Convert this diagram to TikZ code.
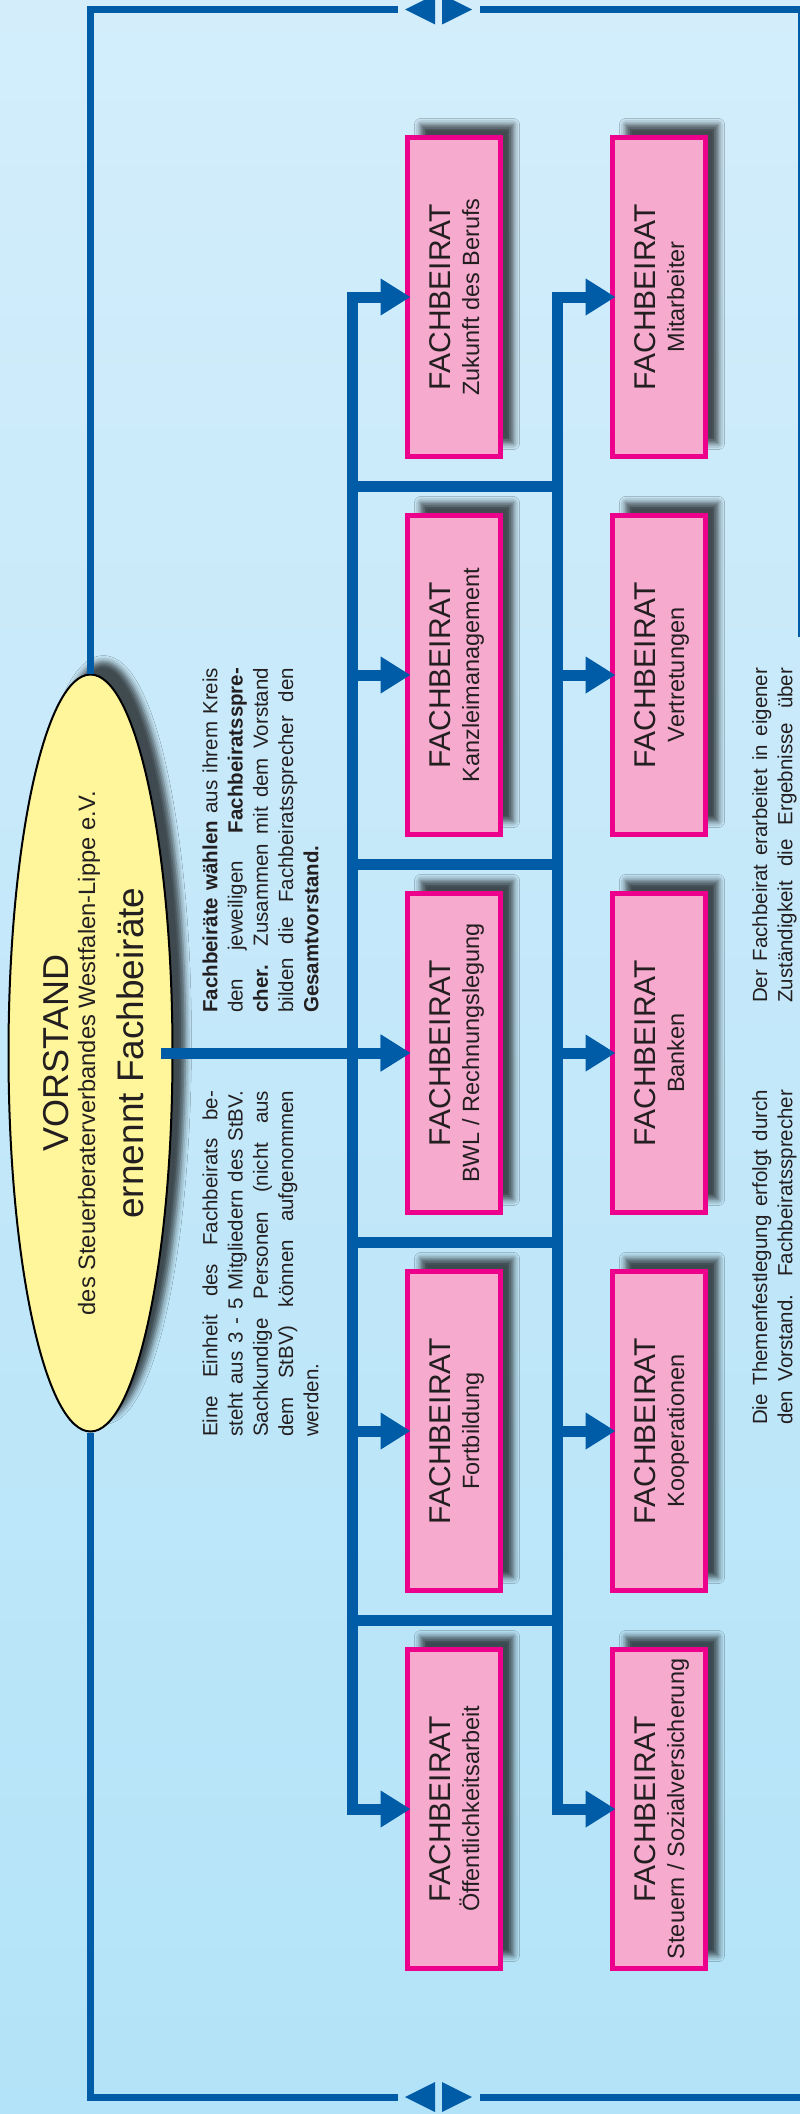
\documentclass[tikz,border=0pt]{standalone}
\usepackage{fontspec}
\setmainfont{Liberation Sans}
\usetikzlibrary{arrows.meta,shapes.geometric,shadows.blur}
\definecolor{bgtop}{RGB}{211,237,251}
\definecolor{bgbot}{RGB}{179,227,248}
\definecolor{lineblue}{RGB}{0,92,167}
\definecolor{boxfill}{RGB}{246,170,205}
\definecolor{boxline}{RGB}{236,0,140}
\definecolor{ellfill}{RGB}{255,246,155}
\definecolor{txt}{RGB}{35,31,32}
\newcommand\fachbox[4]{%
  \node[fbox] (#1) at (#2,#3) {};
  \node[boxtitle] (#1t) at ([xshift=-4pt]#1.center) {FACHBEIRAT};
  \node[boxsub] (#1s) at ([xshift=25pt]#1.center) {#4};
}
\begin{document}
\begin{tikzpicture}[x=1pt,y=-1pt,
  myshadow/.style={blur shadow={shadow xshift=13pt, shadow yshift=13pt, shadow blur radius=6pt, shadow opacity=68}},
  fbox/.style={rectangle, draw=boxline, fill=boxfill, line width=5pt, minimum width=93pt, minimum height=319pt, inner sep=0pt, myshadow},
  boxtitle/.style={rotate=90, anchor=base, inner sep=0pt, text=txt, font=\fontsize{30}{36}\selectfont},
  boxsub/.style={rotate=90, anchor=base, inner sep=0pt, text=txt, font=\fontsize{23.5}{28}\selectfont},
  frame/.style={draw=lineblue, line width=7pt},
  bus/.style={draw=lineblue, line width=11pt},
  arr/.style={draw=lineblue, line width=11pt, -{Triangle[length=30pt,width=35pt]}},
  para/.style={rotate=90, anchor=north west, inner sep=0pt, align=justify, text=txt, font=\fontsize{20.5}{25.25}\selectfont},
  elltext/.style={rotate=90, anchor=base, inner sep=0pt, text=txt}
]
\useasboundingbox (0,0) rectangle (800,2114);
\shade[top color=bgtop, bottom color=bgbot] (0,0) rectangle (800,2114);

% ellipse
\node[ellipse, draw=black, line width=2pt, fill=ellfill, minimum width=164pt, minimum height=757pt, inner sep=0pt, myshadow] (ell) at (90.5,1053) {};

% frame
\coordinate (gapTL) at (398,9.5);
\coordinate (gapTR) at (480,9.5);
\coordinate (rEnd) at (801.5,637);
\coordinate (gapBL) at (398,2097);
\coordinate (gapBR) at (480,2097);
\coordinate (bEnd) at (806,2097);
\draw[frame] (ell.north) |- (gapTL);
\draw[frame] (gapTR) -| (rEnd);
\draw[frame] (ell.south) |- (gapBL);
\draw[frame] (gapBR) -- (bEnd);
\fill[lineblue] (405,9.5) -- (435,-5.5) -- (435,24.5) -- cycle;
\fill[lineblue] (472,9.5) -- (442,-5.5) -- (442,24.5) -- cycle;
\fill[lineblue] (405,2097) -- (435,2082) -- (435,2112) -- cycle;
\fill[lineblue] (472,2097) -- (442,2082) -- (442,2112) -- cycle;

% ellipse text
\node[elltext, font=\fontsize{36}{40}\selectfont] (vt) at ([xshift=-22.5pt]ell.center) {VORSTAND};
\node[elltext, font=\fontsize{23.7}{28}\selectfont] (vs) at ([xshift=4.5pt]ell.center) {des Steuerberaterverbandes Westfalen-Lippe e.V.};
\node[elltext, font=\fontsize{37}{42}\selectfont] (ve) at ([xshift=52.5pt]ell.center) {ernennt Fachbeiräte};

% boxes
\fachbox{zuk}{454}{297}{Zukunft des Berufs}
\fachbox{kan}{454}{675}{Kanzleimanagement}
\fachbox{bwl}{454}{1053}{BWL / Rechnungslegung}
\fachbox{fort}{454}{1431}{Fortbildung}
\fachbox{oef}{454}{1809}{Öffentlichkeitsarbeit}
\fachbox{mit}{659}{297}{Mitarbeiter}
\fachbox{ver}{659}{675}{Vertretungen}
\fachbox{ban}{659}{1053}{Banken}
\fachbox{koo}{659}{1431}{Kooperationen}
\fachbox{ste}{659}{1809}{Steuern / Sozialversicherung}

% bus lines
\coordinate (c1t) at (352.5,297);
\coordinate (c1b) at (352.5,1809);
\coordinate (c2t) at (557,297);
\coordinate (c2b) at (557,1809);
\draw[bus, line cap=rect] (c1t) -- (c1b);
\draw[bus, line cap=rect] (c2t) -- (c2b);
\foreach \yy/\nm in {486/h1, 864/h2, 1242/h3, 1620/h4}{
  \coordinate (\nm a) at (352.5,\yy);
  \coordinate (\nm b) at (557,\yy);
  \draw[bus] (\nm a) -- (\nm b);
}
\foreach \b in {zuk,kan,bwl,fort,oef}{
  \draw[arr] (\b.west -| c1t) -- ([xshift=5.5pt]\b.west);
}
\foreach \b in {mit,ver,ban,koo,ste}{
  \draw[arr] (\b.west -| c2t) -- ([xshift=5.5pt]\b.west);
}
% trunk
\draw[arr] ([xshift=-13pt]ell.east) -- ([xshift=5.5pt]bwl.west);

% paragraphs
\node[para, text width=345pt] (pA) at (199.5,1013) {\strut\textbf{Fachbeiräte wählen} aus ihrem Kreis\linebreak den jeweiligen \textbf{Fachbeiratsspre-}\linebreak\textbf{cher.} Zusammen mit dem Vorstand\linebreak bilden die Fachbeiratssprecher den\linebreak\textbf{Gesamtvorstand.}};
\node[para, text width=346pt] (pB) at (199.5,1437) {\strut Eine Einheit des Fachbeirats be-\linebreak steht aus 3 - 5 Mitgliedern des StBV.\linebreak Sachkundige Personen (nicht aus\linebreak dem StBV) können aufgenommen\linebreak werden.};
\node[para, text width=335pt] (pC) at (749.3,1003) {\strut Der Fachbeirat erarbeitet in eigener\linebreak\makebox[\linewidth][s]{Zuständigkeit die Ergebnisse über}};
\node[para, text width=335pt] (pD) at (749.3,1425) {\strut Die Themenfestlegung erfolgt durch\linebreak\makebox[\linewidth][s]{den Vorstand. Fachbeiratssprecher}};
\end{tikzpicture}
\end{document}
